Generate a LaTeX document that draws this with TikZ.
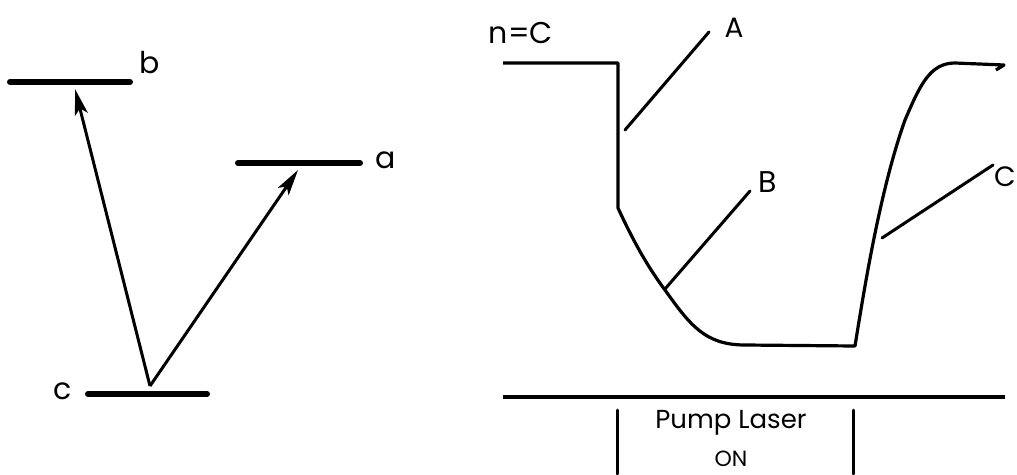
\documentclass[tikz,border=0pt]{standalone}
\usepackage{fontspec}
\setsansfont{Poppins}
\usetikzlibrary{arrows.meta}
\begin{document}
\begin{tikzpicture}[x=1pt,y=-1pt,
  level/.style={line width=6pt,line cap=round},
  trans/.style={line width=3pt,-{Stealth[length=26pt,width=13pt,inset=6pt]}},
  curve/.style={line width=3.2pt,line join=round},
  pointer/.style={line width=3pt,line cap=round},
  lab/.style={font=\sffamily\fontsize{30}{32}\selectfont,inner sep=0pt},
  small/.style={font=\sffamily\fontsize{26}{28}\selectfont,inner sep=0pt,align=center}]
\useasboundingbox (0,0) rectangle (1017,474);
% energy levels
\coordinate (b1) at (10,82); \coordinate (b2) at (130,82);
\coordinate (a1) at (238,163); \coordinate (a2) at (360,163);
\coordinate (c1) at (88,394); \coordinate (c2) at (207,394);
\draw[level] (b1) -- (b2);
\draw[level] (a1) -- (a2);
\draw[level] (c1) -- (c2);
\node[lab] (lb) at (150,63) {b};
\node[lab] (la) at (386,160) {a};
\node[lab] (lc) at (63,391) {c};
\coordinate (v) at (150,386);
\coordinate (tb) at (75,89);
\coordinate (ta) at (298,170);
\draw[trans] (v) -- (tb);
\draw[trans] (v) -- (ta);
% signal curve
\node[lab] (nc) at (521,33) {n=C};
\coordinate (s0) at (503,63);
\coordinate (s1) at (618,63);
\coordinate (s2) at (618,208);
\coordinate (s3) at (665,290);
\coordinate (s4) at (745,345);
\coordinate (s5) at (855,346);
\coordinate (s6) at (905,120);
\coordinate (s7) at (955,63);
\coordinate (s8) at (1004,65);
\draw[curve] (s0) -- (s1) -- (s2)
  .. controls (635,245) and (650,270) .. (s3)
  .. controls (690,325) and (705,345) .. (s4) -- (s5)
  .. controls (864,290) and (880,190) .. (s6)
  .. controls (920,85) and (930,63) .. (s7) -- (s8) -- (996,70);
% pointers
\coordinate (pA1) at (625,130); \coordinate (pA2) at (709,32);
\coordinate (pB1) at (665,289); \coordinate (pB2) at (750,191);
\coordinate (pC1) at (882,238); \coordinate (pC2) at (993,165);
\draw[pointer] (pA1) -- (pA2);
\draw[pointer] (pB1) -- (pB2);
\draw[pointer] (pC1) -- (pC2);
\node[lab,font=\sffamily\fontsize{28}{30}\selectfont] (lA) at (734,28) {A};
\node[lab] (lB) at (768,182) {B};
\node[lab,font=\sffamily\fontsize{28}{30}\selectfont] (lC) at (1005,177) {C};
% time axis and pump window
\coordinate (x1) at (503,397); \coordinate (x2) at (1005,397);
\draw[curve] (x1) -- (x2);
\coordinate (w1) at (617,410); \coordinate (w2) at (617,474);
\coordinate (w3) at (853,410); \coordinate (w4) at (853,474);
\draw[pointer] (w1) -- (w2);
\draw[pointer] (w3) -- (w4);
\node[small] (pump) at (731,423) {Pump Laser};
\node[small,font=\sffamily\fontsize{22}{24}\selectfont] (on) at (731,459) {ON};
\end{tikzpicture}
\end{document}
